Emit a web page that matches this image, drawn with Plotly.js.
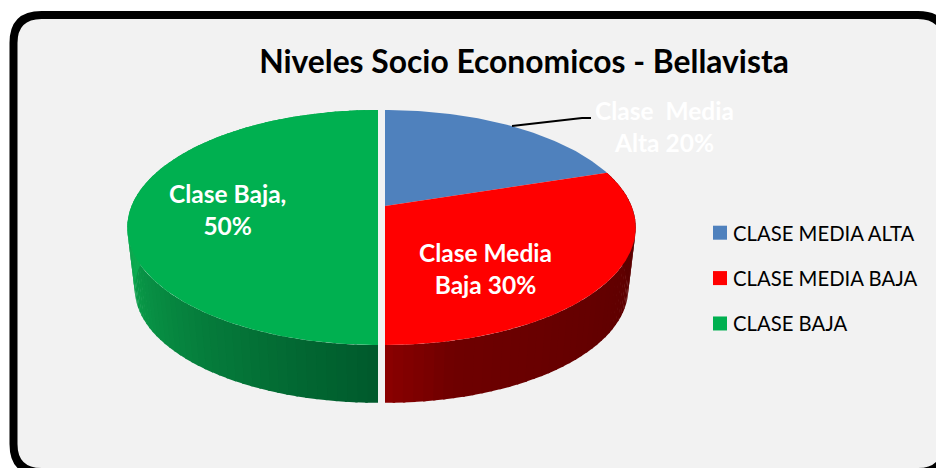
<!DOCTYPE html>
<html><head><meta charset="utf-8">
<script src="https://cdn.plot.ly/plotly-3.0.1.min.js"></script>
<style>html,body{margin:0;padding:0;background:#fff}</style></head>
<body><div id="chart" style="width:936px;height:468px"></div>
<script>
const titleText = 'Niveles Socio Economicos - Bellavista';
const categories = ['CLASE MEDIA ALTA', 'CLASE MEDIA BAJA', 'CLASE BAJA'];
const values = [20, 30, 50];
const sliceLabels = ['Clase  Media<br>Alta 20%', 'Clase Media<br>Baja 30%', 'Clase Baja,<br>50%'];
const colors = ['#4f81bd', '#ff0000', '#00b050'];

// Projection of the tilted pie onto the picture (pixel-scaled axes)
const hubX = [385, 385, 378], hubY = 206, R = 246.5, Ry = 113.6, K = 0.183, depth = 62, shrink = 0.97;
function project(hx, deg, s, dy) {
  const a = deg * Math.PI / 180, u = Math.sin(a), v = Math.cos(a), w = 1 + K * v;
  return [hx + s * R * u / w, hubY + dy - s * Ry * v / w];
}
function mix(a, b, t) {
  const p = c => [1, 3, 5].map(i => parseInt(c.substr(i, 2), 16));
  const A = p(a), B = p(b);
  return 'rgb(' + A.map((x, i) => Math.round(x + (B[i] - x) * t)).join(',') + ')';
}
const wallRamp = [
  null,
  (d) => d < 165 ? mix('#5a0000', '#6e0000', (d - 95) / 70) : mix('#6e0000', '#8e0000', (d - 165) / 15),
  (d) => mix('#005a2c', '#0cab50', Math.min(1, (d - 180) / 85))
];

const traces = [];
let start = 0;
const total = values.reduce((a, b) => a + b, 0);
const sweeps = values.map(val => { const s = [start, start + val / total * 360]; start = s[1]; return s; });

// side walls
sweeps.forEach((sw, i) => {
  if (!wallRamp[i]) return;
  const step = 2;
  const segs = [];
  for (let d = sw[0]; d < sw[1]; d += step) segs.push(d);
  if (i === 1) segs.reverse();
  segs.forEach(d => {
    const e = Math.min(d + step + 0.5, sw[1]);
    const col = wallRamp[i](Math.max(d, 95));
    const a = project(hubX[i], d, 1, 0), b = project(hubX[i], e, 1, 0),
          c = project(hubX[i], e, shrink, depth), f = project(hubX[i], d, shrink, depth);
    traces.push({type: 'scatter', mode: 'lines', x: [a[0], b[0], c[0], f[0], a[0]], y: [a[1], b[1], c[1], f[1], a[1]],
      fill: 'toself', fillcolor: col, line: {color: col, width: 0}, showlegend: false, hoverinfo: 'skip'});
  });
});

// top faces
sweeps.forEach((sw, i) => {
  const x = [hubX[i]], y = [hubY];
  for (let d = sw[0]; d <= sw[1] + 1e-6; d += 1) {
    const p = project(hubX[i], d, 1, 0);
    x.push(p[0]); y.push(p[1]);
  }
  x.push(hubX[i]); y.push(hubY);
  traces.push({type: 'scatter', mode: 'lines', x, y, fill: 'toself', fillcolor: colors[i],
    line: {color: colors[i], width: 0}, name: categories[i], showlegend: false,
    hoverinfo: 'name'});
});

// legend entries
categories.forEach((c, i) => traces.push({type: 'scatter', mode: 'markers', x: [null], y: [null], name: c,
  legendgroup: c, marker: {symbol: 'square', size: 14, color: colors[i]}, showlegend: true}));

const labelFont = {family: 'Lato, sans-serif', size: 24.5, color: '#ffffff', weight: 700};
const layout = {
  width: 936, height: 468,
  margin: {l: 0, r: 0, t: 0, b: 0},
  paper_bgcolor: '#ffffff', plot_bgcolor: 'rgba(0,0,0,0)',
  title: {text: '<b>' + titleText + '</b>', x: 524 / 936, xanchor: 'center', y: 1 - 62 / 468, yanchor: 'middle',
    font: {family: 'Lato, sans-serif', size: 31.8, color: '#000000'}},
  xaxis: {range: [0, 936], visible: false, fixedrange: true},
  yaxis: {range: [468, 0], visible: false, fixedrange: true},
  legend: {x: 700 / 936, xanchor: 'left', y: 1 - 213 / 468, yanchor: 'top', tracegroupgap: 16,
    bgcolor: 'rgba(0,0,0,0)', font: {family: 'Lato, sans-serif', size: 20.3, color: '#000000'}},
  shapes: [
    {type: 'path', layer: 'below', xref: 'x', yref: 'y',
      path: 'M 13.5 43 Q 13.5 15 41.5 15 L 918 15 Q 946 15 946 43 L 946 444 Q 946 472 918 472 L 41.5 472 Q 13.5 472 13.5 444 Z',
      fillcolor: '#f2f2f2', line: {color: '#000000', width: 8}},
    {type: 'path', xref: 'x', yref: 'y', path: 'M 512 126 L 582 118 L 591 118',
      line: {color: '#000000', width: 2}}
  ],
  annotations: [
    {text: sliceLabels[0], x: 664, y: 126},
    {text: sliceLabels[1], x: 485, y: 268},
    {text: sliceLabels[2], x: 227, y: 209}
  ].map(a => Object.assign(a, {xref: 'x', yref: 'y', showarrow: false, xanchor: 'center', yanchor: 'middle',
    font: labelFont})),
  hovermode: false
};
function shiftLegend() {
  document.querySelectorAll('#chart .legendtext').forEach(t => t.setAttribute('x', 33));
}
Plotly.newPlot('chart', traces, layout, {displayModeBar: false, staticPlot: true}).then(gd => {
  shiftLegend();
  gd.on('plotly_afterplot', shiftLegend);
});
</script></body></html>
